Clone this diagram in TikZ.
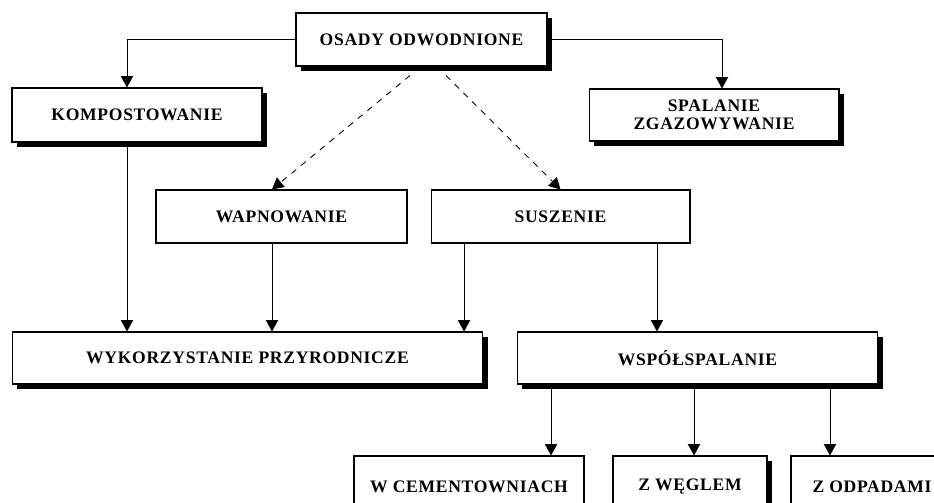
\documentclass[tikz,border=0pt]{standalone}
\usepackage{fontspec}
\setmainfont{Liberation Serif}[LetterSpace=4]
\usetikzlibrary{arrows.meta,shadows,positioning}

\tikzset{
  blok/.style={draw, line width=0.6pt, fill=white, inner sep=0pt, align=center,
    font=\bfseries\fontsize{10}{10.5}\selectfont},
  blokcien/.style={blok, drop shadow={shadow xshift=0.1cm, shadow yshift=-0.1cm, fill=black, opacity=1}},
  strzalka/.style={draw, line width=0.5pt, -{Triangle[length=6.5pt,width=7pt]}},
  przerywana/.style={strzalka, dash pattern=on 3.5pt off 3.5pt}
}

\begin{document}
\begin{tikzpicture}[x=0.02cm,y=-0.02cm]
\clip (0,0) rectangle (934,503);
% poziom 1 i 2
\begin{scope}
\node[blokcien, minimum width=5.02cm, minimum height=1.06cm] (osady) at (421.5,39.5) {OSADY ODWODNIONE};
\node[blokcien, minimum width=5cm, minimum height=1.08cm] (kompost) at (137,115) {KOMPOSTOWANIE};
\node[blokcien, minimum width=5cm, minimum height=1.04cm] (spalanie) at (714,115) {SPALANIE\\ZGAZOWYWANIE};
\node[blok, minimum width=5.02cm, minimum height=1.06cm] (wapno) at (281.5,216.5) {WAPNOWANIE};
\node[blok, minimum width=5.18cm, minimum height=1.06cm] (suszenie) at (560.5,216.5) {SUSZENIE};
\end{scope}
% poziom 3 i 4
\begin{scope}
\node[blokcien, minimum width=9.42cm, minimum height=1.04cm] (wykorz) at (247.5,358) {WYKORZYSTANIE PRZYRODNICZE};
\node[blokcien, minimum width=7.22cm, minimum height=1.04cm] (wspol) at (697.5,358) {WSPÓŁSPALANIE};
\node[blok, minimum width=4.6cm, minimum height=1.24cm] (cement) at (469,487) {W CEMENTOWNIACH};
\node[blokcien, minimum width=3.08cm, minimum height=1.24cm] (wegiel) at (690,487) {Z WĘGLEM};
\node[blok, minimum width=3.24cm, minimum height=1.24cm] (odpady) at (872,487) {Z ODPADAMI};
\end{scope}
% polaczenia
\draw[strzalka] (osady.west) -| ([xshift=-2mm]kompost.north);
\draw[strzalka] (osady.east) -| ([xshift=1.6mm]spalanie.north);
\coordinate (d1) at ([xshift=-0.23cm,yshift=-0.18cm]osady.south);
\coordinate (d2) at ([xshift=0.49cm,yshift=-0.18cm]osady.south);
\draw[przerywana] (d1) -- ([xshift=-1.9mm]wapno.north);
\draw[przerywana] (d2) -- (suszenie.north);
\coordinate (k) at ([xshift=-2mm]kompost.south);
\coordinate (w) at ([xshift=-1.9mm]wapno.south);
\coordinate (s1) at ([xshift=-1.93cm]suszenie.south);
\coordinate (s2) at ([xshift=1.93cm]suszenie.south);
\draw[strzalka] (k) -- (k |- wykorz.north);
\draw[strzalka] (w) -- (w |- wykorz.north);
\draw[strzalka] (s1) -- (s1 |- wykorz.north);
\draw[strzalka] (s2) -- (s2 |- wspol.north);
\coordinate (p1) at ([xshift=-2.93cm]wspol.south);
\coordinate (p2) at ([xshift=-0.07cm]wspol.south);
\coordinate (p3) at ([xshift=2.65cm]wspol.south);
\draw[strzalka] (p1) -- (p1 |- cement.north);
\draw[strzalka] (p2) -- (p2 |- wegiel.north);
\draw[strzalka] (p3) -- (p3 |- odpady.north);
\end{tikzpicture}
\end{document}
